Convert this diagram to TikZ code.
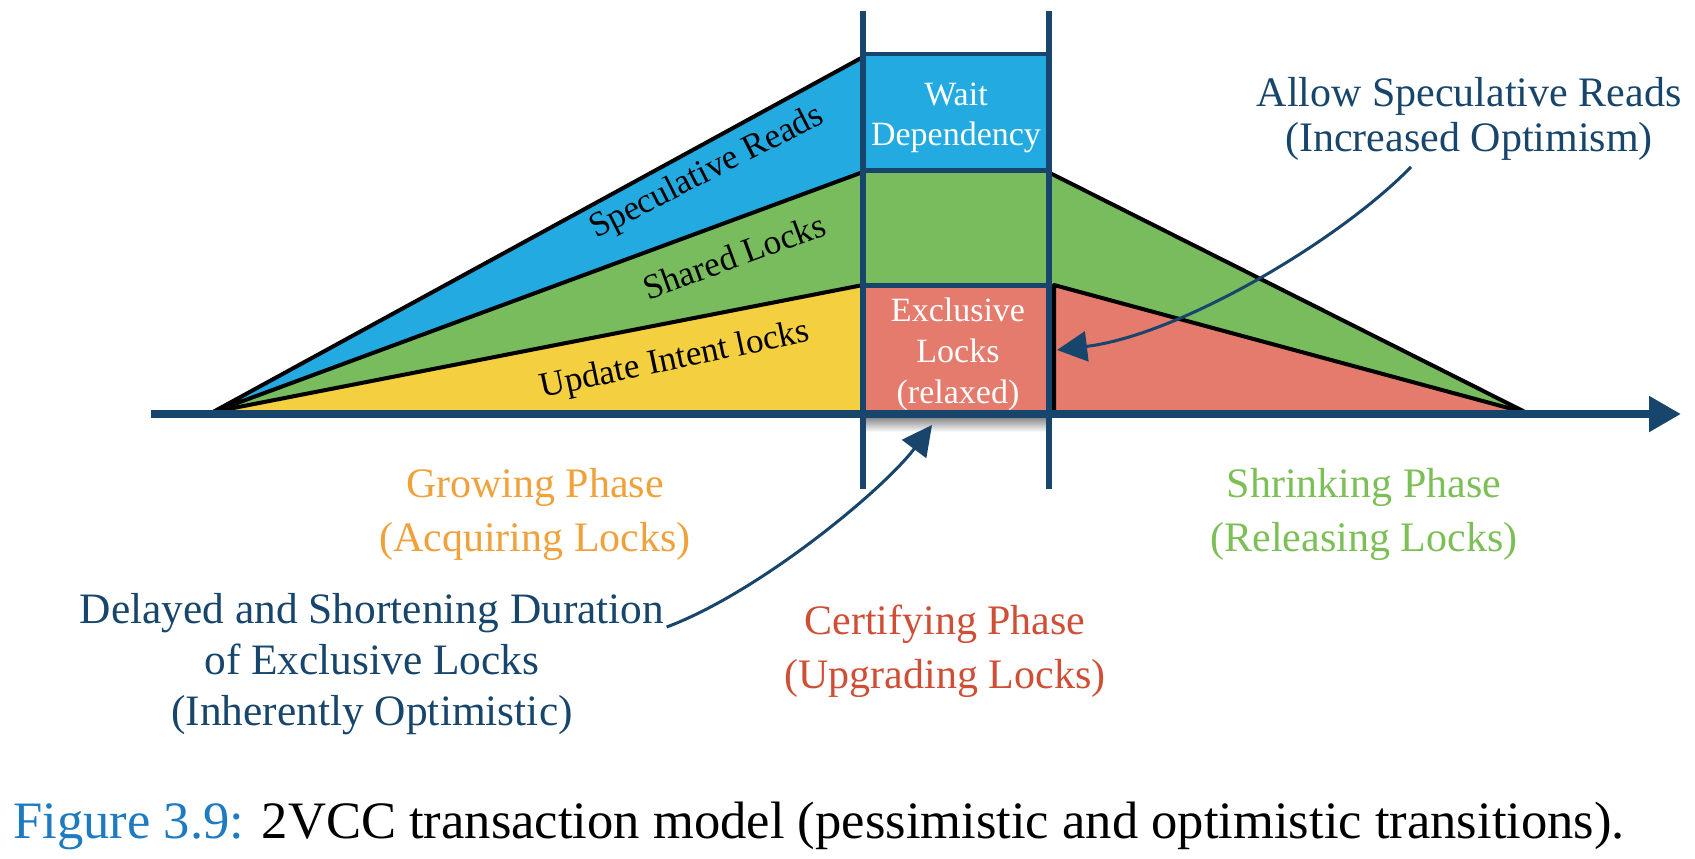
\documentclass[tikz,border=0pt]{standalone}
\usepackage{fontspec}
\setmainfont{Liberation Serif}
\usetikzlibrary{arrows.meta}
\definecolor{navy}{HTML}{17456B}
\definecolor{fblue}{HTML}{22AAE1}
\definecolor{fgreen}{HTML}{78BC5E}
\definecolor{fyellow}{HTML}{F4CF40}
\definecolor{fred}{HTML}{E57B6D}
\definecolor{torange}{HTML}{EFA13C}
\definecolor{tgreen}{HTML}{7DBF57}
\definecolor{tred}{HTML}{CF4F36}
\definecolor{capblue}{HTML}{1F7BC1}
\begin{document}
\begin{tikzpicture}[x=0.5pt,y=-0.5pt,
  slant/.style={draw=black,line width=2pt,line join=round},
  midbox/.style={draw=navy,line width=2pt,minimum width=93pt,inner sep=0pt,text=white,align=center,font=\fontsize{17}{20}\selectfont},
  bandlabel/.style={inner sep=0pt,font=\fontsize{17.5}{20}\selectfont},
  outlabel/.style={inner sep=0pt,align=center,font=\fontsize{21}{27}\selectfont},
  vline/.style={draw=navy,line width=3pt},
  callout/.style={draw=navy,line width=1.5pt,-{Triangle[length=15pt,width=15pt]}}]
\useasboundingbox (0,0) rectangle (1695,858);
% left triangles
\fill[fblue] (213,412) -- (863,57) -- (863,172) -- cycle;
\fill[fgreen] (213,412) -- (863,172) -- (863,285) -- cycle;
\fill[fyellow] (213,412) -- (863,285) -- (863,414) -- cycle;
\draw[slant] (863,57) -- (213,412) -- (863,172);
\draw[slant] (213,412) -- (863,285);
% right triangles
\fill[fgreen] (1050,173) -- (1527,413) -- (1050,414) -- cycle;
\draw[slant] (1050,173) -- (1527,413);
\filldraw[fred,draw=black,line width=2pt,line join=round] (1054,285) -- (1527,413) -- (1054,413) -- cycle;
% middle boxes
\node[midbox,fill=fblue,minimum height=58pt] (wait) at (956,112) {};
\node[text=white,align=center,inner sep=0pt,font=\fontsize{17}{20}\selectfont] (waittext) at (956,118) {Wait\\Dependency};
\node[midbox,fill=fgreen,minimum height=57pt] (shared) at (956,228) {};
\node[midbox,fill=fred,minimum height=64pt] (excl) at (956,350) {};
\node[text=white,align=center,inner sep=0pt,font=\fontsize{17}{20.5}\selectfont] (excltext) at (958,354) {Exclusive\\Locks\\(relaxed)};
% shadow
\shade[top color=black!45,bottom color=white] (866,418) rectangle (1046,432);
% axis and phase separators
\coordinate (axstart) at (151,414);
\coordinate (axend) at (1681,414);
\draw[navy,line width=4pt,-{Triangle[length=16pt,width=17pt]}] (axstart) -- (axend);
\coordinate (l1) at (863,11); \coordinate (l2) at (863,489);
\coordinate (r1) at (1049,11); \coordinate (r2) at (1049,489);
\draw[vline] (l1) -- (l2);
\draw[vline] (r1) -- (r2);
% band labels
\node[bandlabel,rotate=27] (spec) at (707,173) {Speculative Reads};
\node[bandlabel,rotate=20] (shl) at (734,256) {Shared Locks};
\node[bandlabel,rotate=12] (upd) at (675,361) {Update Intent locks};
% outer labels
\node[outlabel,text=torange] (grow) at (535,514) {Growing Phase\\(Acquiring Locks)};
\node[outlabel,text=tgreen] (shrink) at (1364,514) {Shrinking Phase\\(Releasing Locks)};
\node[outlabel,text=tred] (cert) at (945,651) {Certifying Phase\\(Upgrading Locks)};
\node[outlabel,text=navy,font=\fontsize{21.7}{25.5}\selectfont] (delay) at (372,664) {Delayed and Shortening Duration\\of Exclusive Locks\\(Inherently Optimistic)};
\node[outlabel,text=navy,font=\fontsize{21}{22.5}\selectfont] (allow) at (1469,119) {Allow Speculative Reads\\(Increased Optimism)};
% callouts
\coordinate (a1) at ([shift={(2,-37)}]delay.east);
\coordinate (t1) at ([shift={(-24,9)}]excl.south);
\draw[callout] (a1) .. controls (760,592) and (884,489) .. (t1);
\coordinate (a2) at ([shift={(-58,6)}]allow.south);
\coordinate (t2) at ([shift={(6,0)}]excl.east);
\draw[callout] (a2) .. controls (1340,240) and (1180,335) .. (t2);
% caption
\node[anchor=west,inner sep=0pt,font=\fontsize{26.3}{30}\selectfont] (cap) at (13,826) {\textcolor{capblue}{Figure 3.9:} 2VCC transaction model (pessimistic and optimistic transitions).};
\end{tikzpicture}
\end{document}
